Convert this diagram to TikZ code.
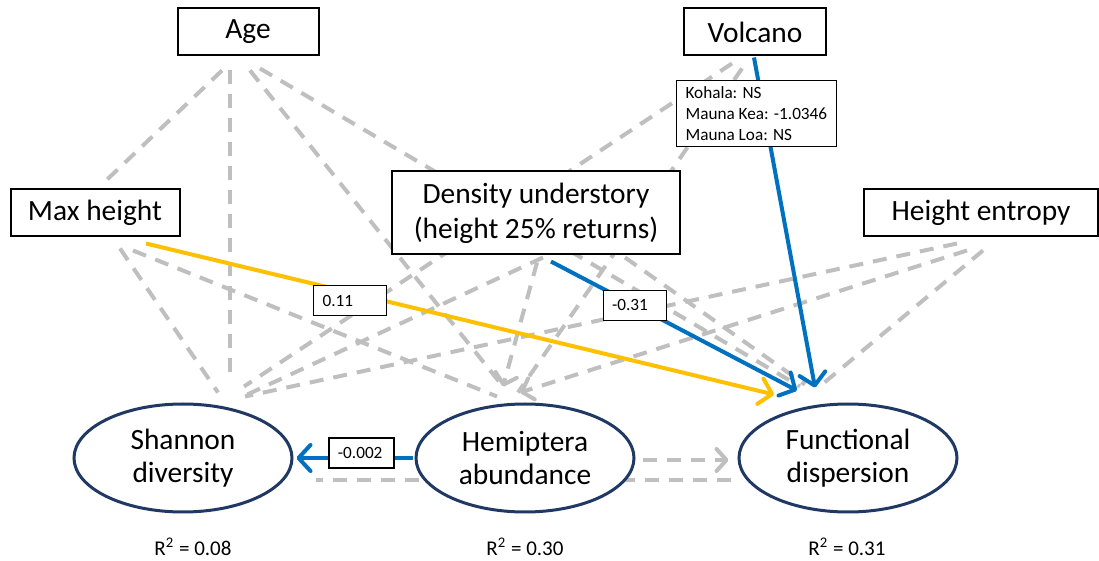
\documentclass[tikz,border=0pt]{standalone}
\usepackage{fontspec}
\setmainfont{Carlito}
\usepackage{tikz}
\usetikzlibrary{shapes.geometric, arrows.meta, calc, backgrounds}
\definecolor{nsgray}{HTML}{BFBFBF}
\definecolor{negblue}{HTML}{0070C0}
\definecolor{posgold}{HTML}{FFC000}
\definecolor{respnavy}{HTML}{1F3864}

\begin{document}
\begin{tikzpicture}[x=0.5pt, y=-0.5pt,
  predictor/.style={rectangle, draw=black, line width=1pt, fill=white, inner sep=0pt, minimum height=23.5pt, align=center, font=\fontsize{14.7}{17.5}\selectfont},
  response/.style={ellipse, draw=respnavy, line width=1.5pt, fill=white, inner sep=0pt, minimum width=109pt, minimum height=54pt, align=center, font=\fontsize{14.7}{16.5}\selectfont},
  coef/.style={rectangle, draw=black, line width=0.6pt, fill=white, inner xsep=4.5pt, inner ysep=3pt, minimum height=15pt, align=left, font=\fontsize{8.6}{10.5}\selectfont},
  rsq/.style={font=\fontsize{10.5}{12}\selectfont},
  nspath/.style={draw=nsgray, line width=2pt, dash pattern=on 7pt off 5pt},
  nsarrow/.style={nspath, -{Straight Barb[length=5pt, width=11pt, round]}},
  posarrow/.style={draw=posgold, line width=2pt, -{Straight Barb[length=6pt, width=13pt, round]}},
  negarrow/.style={draw=negblue, line width=2pt, -{Straight Barb[length=6pt, width=13pt, round]}}
]
  \useasboundingbox (0,0) rectangle (1099,561);

  % Predictors
  \node[predictor, minimum width=70.5pt] (age) at (248,32) {Age};
  \node[predictor, minimum width=71pt] (volc) at (755,32) {Volcano};
  \node[predictor, minimum width=84.5pt] (maxh) at (95,213) {Max height};
  \node[predictor, minimum width=144pt, minimum height=41.5pt] (dens) at (536,213) {Density understory\\(height 25\% returns)};
  \node[predictor, minimum width=117pt] (hent) at (981,213) {Height entropy};

  % Responses
  \node[response] (shan) at (183,458) {Shannon\\diversity};
  \node[response] (hemi) at (525,458) {Hemiptera\\abundance};
  \node[response] (func) at (848,458) {Functional\\dispersion};

  % R squared
  \node[rsq] (shanr2) at (193,547) {R\textsuperscript{2} = 0.08};
  \node[rsq] (hemir2) at (525,547) {R\textsuperscript{2} = 0.30};
  \node[rsq] (funcr2) at (847,547) {R\textsuperscript{2} = 0.31};

  \begin{scope}[on background layer]
    % Non-significant paths
    \draw[nspath] ($(age.south)+(-26,14)$) -- ($(maxh.north)+(10,-7)$);
    \draw[nspath] ($(age.south)+(-18,14)$) -- ($(shan.north)+(47,-26)$);
    \draw[nspath] ($(age.south)+(2,14)$) -- ($(hemi.north)+(-22,-16)$);
    \draw[nspath] ($(age.south)+(12,12)$) -- ($(func.north)+(-48,-16)$);
    \draw[nspath] ($(maxh.south)+(25,11)$) -- ($(shan.north)+(35,-10)$);
    \draw[nspath] ($(maxh.south)+(38,13)$) -- ($(hemi.north)+(-28,-6)$);
    \draw[nspath] ($(volc.south)+(-23,7)$) -- ($(shan.north)+(61,-16)$);
    \draw[nspath] ($(volc.south)+(-13,12)$) -- ($(hemi.north)+(-7,-10)$);
    \draw[nspath] ($(dens.south)+(7,2)$) -- ($(shan.north)+(60,-6)$);
    \draw[nsarrow] ($(dens.south)+(1,7)$) -- ($(hemi.north)+(-22,-16)$);
    \draw[nspath] ($(dens.south)+(89,2)$) -- ($(func.north)+(-43,-18)$);
    \draw[nspath] ($(hent.south)+(-24,6)$) -- ($(shan.north)+(62,-6)$);
    \draw[nsarrow] ($(hent.south)+(-14,13)$) -- ($(hemi.north)+(-5,-10)$);
    \draw[nspath] ($(hent.south)+(2,13)$) -- ($(func.north)+(-26,-18)$);
    \draw[nsarrow] ($(hemi.east)+(7,2)$) -- ($(func.west)+(-9,2)$);
    \draw[nspath] ($(func.west)+(-7,22)$) -- ($(shan.east)+(22,22)$);

    % Significant paths
    \draw[posarrow] ($(maxh.south)+(51,6)$) -- node[coef, text width=27.5pt, pos=0.325, yshift=-4pt] (maxhcoef) {0.11} ($(func.north)+(-74,-8)$);
    \draw[negarrow] ($(dens.south)+(15,6)$) -- node[coef, text width=22.5pt, pos=0.34] (denscoef) {-0.31} ($(func.north)+(-51,-12)$);
    \draw[negarrow] ($(volc.south)+(-1,1)$) -- node[coef, pos=0.17, xshift=-4pt] (volccoef) {Kohala: NS\\Mauna Kea: -1.0346\\Mauna Loa: NS} ($(func.north)+(-33,-15)$);
    \draw[negarrow] ($(hemi.west)+(-2,0)$) -- node[coef, text width=23.5pt, pos=0.44, yshift=2.5pt] (hemicoef) {-0.002} ($(shan.east)+(3,0)$);
  \end{scope}
\end{tikzpicture}
\end{document}
